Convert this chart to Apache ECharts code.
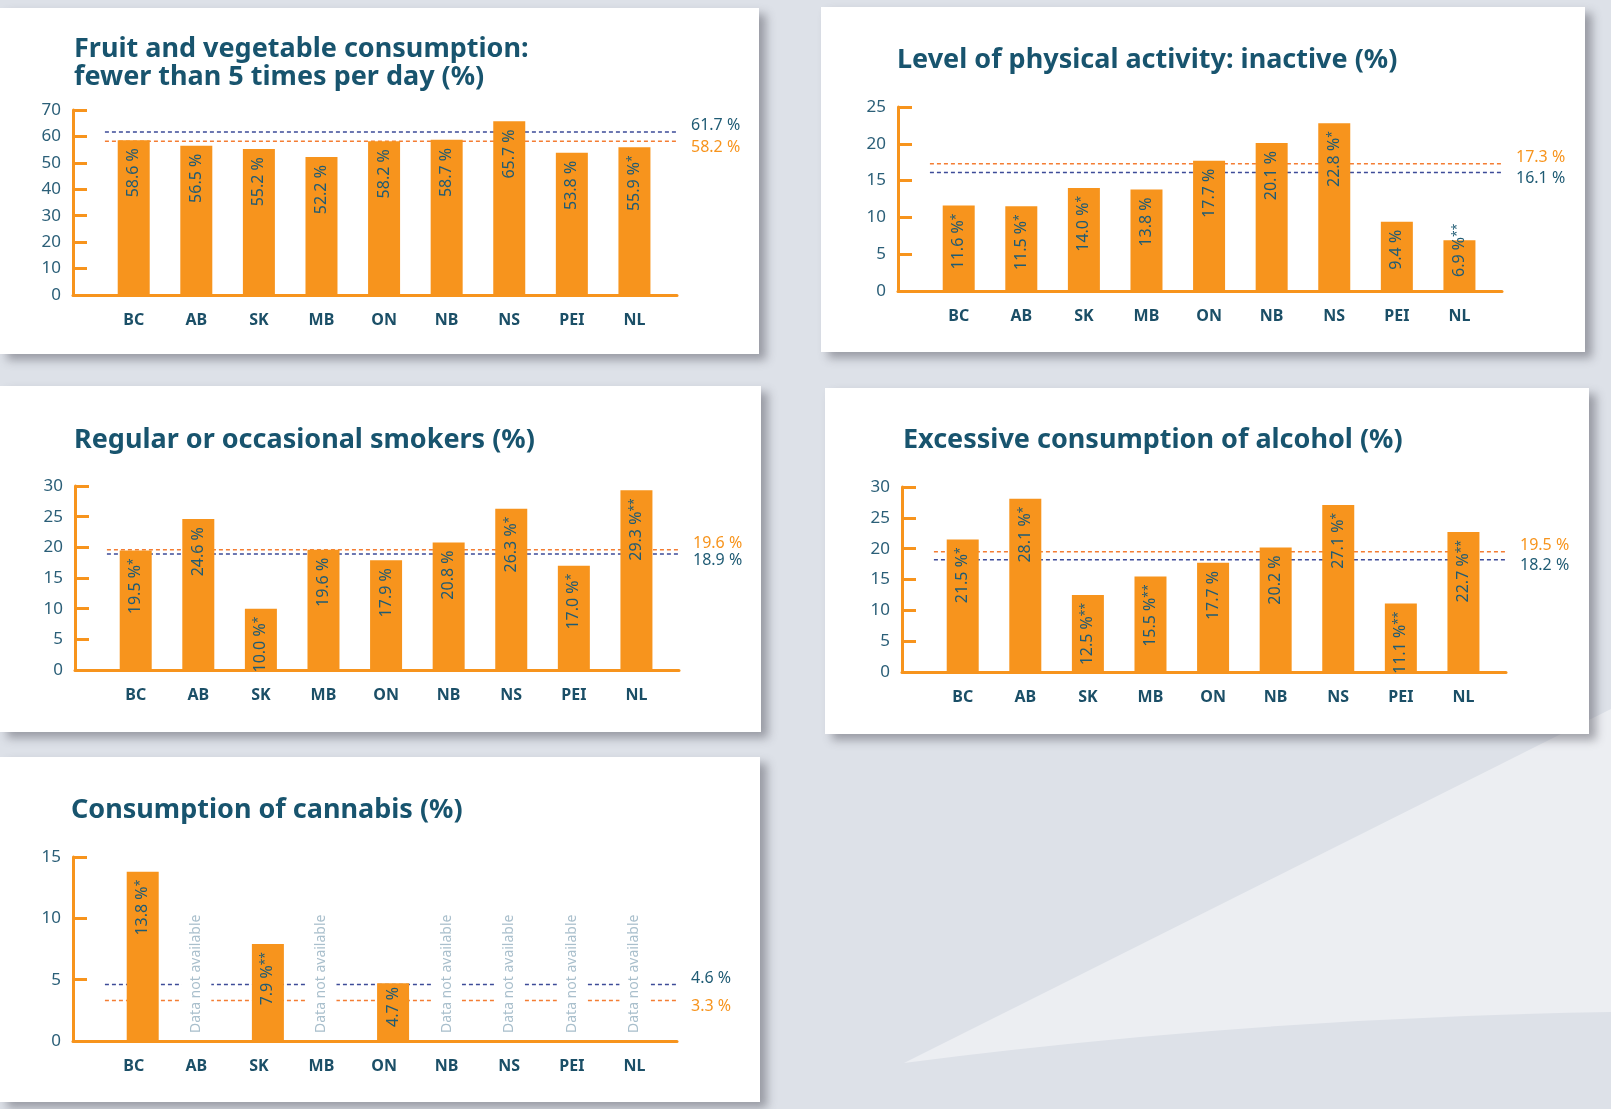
<!DOCTYPE html>
<html>
<head>
<meta charset="utf-8">
<script src="https://cdn.jsdelivr.net/npm/echarts@6/dist/echarts.min.js"></script>
<style>
  html, body { margin:0; padding:0; }
  body { width:1611px; height:1109px; position:relative; overflow:hidden; background:#dde1e8; }
  #bg { position:absolute; left:0; top:0; }
  .panel { position:absolute; background:#fff; box-shadow: 7px 6px 9px rgba(70,72,82,0.45); }
  .panel > div { width:100%; height:100%; }
</style>
</head>
<body>
<svg id="bg" width="1611" height="1109">
  <path d="M 904 1063 L 1611 709 L 1611 1012 Q 1250 1018 904 1063 Z" fill="#eceef2"/>
</svg>
<div class="panel" id="p1" style="left:0px;top:8px;width:759px;height:346px"><div id="c1"></div></div>
<div class="panel" id="p2" style="left:821px;top:7px;width:764px;height:345px"><div id="c2"></div></div>
<div class="panel" id="p3" style="left:0px;top:386px;width:761px;height:346px"><div id="c3"></div></div>
<div class="panel" id="p4" style="left:825px;top:388px;width:764px;height:346px"><div id="c4"></div></div>
<div class="panel" id="p5" style="left:0px;top:757px;width:760px;height:345px"><div id="c5"></div></div>
<script>
// ---------------- DATA ----------------
const categories = ['BC', 'AB', 'SK', 'MB', 'ON', 'NB', 'NS', 'PEI', 'NL'];

const fruitValues = [58.6, 56.5, 55.2, 52.2, 58.2, 58.7, 65.7, 53.8, 55.9];
const fruitNotes  = ['', '', '', '', '', '', '', '', '*'];
const fruitBlueAvg = 61.7;
const fruitOrangeAvg = 58.2;
const fruitTicks = [0, 70, 10]; // min, max, step

const activityValues = [11.6, 11.5, 14.0, 13.8, 17.7, 20.1, 22.8, 9.4, 6.9];
const activityNotes  = ['*', '*', '*', '', '', '', '*', '', '**'];
const activityBlueAvg = 16.1;
const activityOrangeAvg = 17.3;
const activityTicks = [0, 25, 5];

const smokerValues = [19.5, 24.6, 10.0, 19.6, 17.9, 20.8, 26.3, 17.0, 29.3];
const smokerNotes  = ['*', '', '*', '', '', '', '*', '*', '**'];
const smokerBlueAvg = 18.9;
const smokerOrangeAvg = 19.6;
const smokerTicks = [0, 30, 5];

const alcoholValues = [21.5, 28.1, 12.5, 15.5, 17.7, 20.2, 27.1, 11.1, 22.7];
const alcoholNotes  = ['*', '*', '**', '**', '', '', '*', '**', '**'];
const alcoholBlueAvg = 18.2;
const alcoholOrangeAvg = 19.5;
const alcoholTicks = [0, 30, 5];

const cannabisValues = [13.8, null, 7.9, null, 4.7, null, null, null, null];
const cannabisNotes  = ['*', '', '**', '', '', '', '', '', ''];
const cannabisBlueAvg = 4.6;
const cannabisOrangeAvg = 3.3;
const cannabisTicks = [0, 15, 5];

const notAvailableText = 'Data not available';

// ---------------- STYLE ----------------
const ORANGE = '#f7941d';
const TEAL = '#1f5b74';
const TITLE = '#18546e';
const BLUE_LINE = '#3d4b98';
const ORANGE_LINE = '#f47d33';
const NA_COLOR = '#a9bfcc';
const FONT = 'Noto Sans';
const X_MIN = -0.97, X_MAX = 8.68, LINE_START = -0.46;

function buildOption(cfg) {
  const [yMin, yMax, yStep] = cfg.ticks;
  const values = cfg.values, notes = cfg.notes;
  const barData = [];
  values.forEach((v, i) => {
    if (v == null) return;
    const low = v / yMax < 0.32;
    barData.push({
      value: [i, v],
      label: low
        ? { position: 'insideBottom', align: 'left', distance: 14 }
        : { position: 'insideTop', align: 'right', distance: 8 }
    });
  });
  const blueUp = cfg.blueAvg > cfg.orangeAvg;
  const avgLine = (name, val, lineColor, textColor, up) => ({
    name: name,
    type: 'line',
    z: 1,
    silent: true,
    symbol: 'none',
    data: [[LINE_START, val], [X_MAX, val]],
    lineStyle: { color: lineColor, width: 1.5, type: [4, 3] },
    endLabel: {
      show: true,
      formatter: () => val.toFixed(1) + ' %',
      color: textColor,
      fontFamily: FONT,
      fontSize: 16,
      distance: 14,
      offset: [0, up ? -6 : 6]
    }
  });
  const series = [
    avgLine('blueAverage', cfg.blueAvg, BLUE_LINE, TEAL, blueUp),
    avgLine('orangeAverage', cfg.orangeAvg, ORANGE_LINE, ORANGE, !blueUp),
    {
      name: 'values',
      type: 'bar',
      z: 2,
      barWidth: 32,
      data: barData,
      itemStyle: { color: ORANGE },
      label: {
        show: true,
        rotate: 90,
        verticalAlign: 'middle',
        color: TEAL,
        fontFamily: FONT,
        fontSize: 16,
        formatter: p => {
          const i = p.value[0];
          return '{v|' + values[i].toFixed(1) + ' %}' + (notes[i] ? '{s|' + notes[i] + '}' : '');
        },
        rich: {
          v: { color: TEAL, fontFamily: FONT, fontSize: 16 },
          s: { color: TEAL, fontFamily: FONT, fontSize: 12, verticalAlign: 'top' }
        }
      }
    }
  ];
  const missing = [];
  values.forEach((v, i) => { if (v == null) missing.push([i, 0]); });
  if (missing.length) {
    series.push({
      name: 'notAvailable',
      type: 'bar',
      z: 3,
      barWidth: 14,
      barGap: '-100%',
      silent: true,
      data: missing,
      itemStyle: { color: 'rgba(0,0,0,0)' },
      label: {
        show: true,
        rotate: 90,
        position: 'insideBottom',
        align: 'left',
        verticalAlign: 'middle',
        distance: 8,
        formatter: notAvailableText,
        color: NA_COLOR,
        fontFamily: FONT,
        fontSize: 14,
        backgroundColor: '#ffffff',
        padding: [8, 0, 8, 0]
      }
    });
  }
  return {
    animation: false,
    title: {
      text: cfg.title,
      left: cfg.titleLeft,
      top: cfg.titleTop,
      textStyle: { fontFamily: FONT, fontWeight: 'bold', fontSize: 27, lineHeight: 28, color: TITLE }
    },
    grid: { left: cfg.axisX, top: cfg.plotTop, width: 604, height: cfg.plotH },
    xAxis: {
      type: 'value',
      min: X_MIN,
      max: X_MAX,
      splitLine: { show: false },
      axisTick: { show: false },
      axisLine: { show: true, onZero: false, lineStyle: { color: ORANGE, width: 3 } },
      axisLabel: {
        customValues: categories.map((c, i) => i),
        formatter: v => categories[Math.round(v)] || '',
        color: '#1b4f67',
        fontFamily: FONT,
        fontWeight: 'bold',
        fontSize: 16,
        margin: 17
      }
    },
    yAxis: {
      type: 'value',
      min: yMin,
      max: yMax,
      interval: yStep,
      splitLine: { show: false },
      axisLine: { show: true, onZero: false, lineStyle: { color: ORANGE, width: 3 } },
      axisTick: { show: true, inside: true, length: 14, lineStyle: { color: ORANGE, width: 3 } },
      axisLabel: { color: '#2b5f78', fontFamily: FONT, fontSize: 17, margin: 12 }
    },
    series: series
  };
}

const panels = [
  { el: 'c1', title: 'Fruit and vegetable consumption:\nfewer than 5 times per day (%)', values: fruitValues, notes: fruitNotes,
    blueAvg: fruitBlueAvg, orangeAvg: fruitOrangeAvg, ticks: fruitTicks,
    titleLeft: 69, titleTop: 22, axisX: 73, plotTop: 102, plotH: 185 },
  { el: 'c2', title: 'Level of physical activity: inactive (%)', values: activityValues, notes: activityNotes,
    blueAvg: activityBlueAvg, orangeAvg: activityOrangeAvg, ticks: activityTicks,
    titleLeft: 71, titleTop: 34, axisX: 77, plotTop: 100, plotH: 184 },
  { el: 'c3', title: 'Regular or occasional smokers (%)', values: smokerValues, notes: smokerNotes,
    blueAvg: smokerBlueAvg, orangeAvg: smokerOrangeAvg, ticks: smokerTicks,
    titleLeft: 69, titleTop: 35, axisX: 75, plotTop: 100, plotH: 184 },
  { el: 'c4', title: 'Excessive consumption of alcohol (%)', values: alcoholValues, notes: alcoholNotes,
    blueAvg: alcoholBlueAvg, orangeAvg: alcoholOrangeAvg, ticks: alcoholTicks,
    titleLeft: 73, titleTop: 33, axisX: 77, plotTop: 99, plotH: 185 },
  { el: 'c5', title: 'Consumption of cannabis (%)', values: cannabisValues, notes: cannabisNotes,
    blueAvg: cannabisBlueAvg, orangeAvg: cannabisOrangeAvg, ticks: cannabisTicks,
    titleLeft: 66, titleTop: 34, axisX: 73, plotTop: 100, plotH: 184 }
];

panels.forEach(cfg => {
  const chart = echarts.init(document.getElementById(cfg.el), null, { renderer: 'canvas' });
  chart.setOption(buildOption(cfg));
});
</script>
</body>
</html>
